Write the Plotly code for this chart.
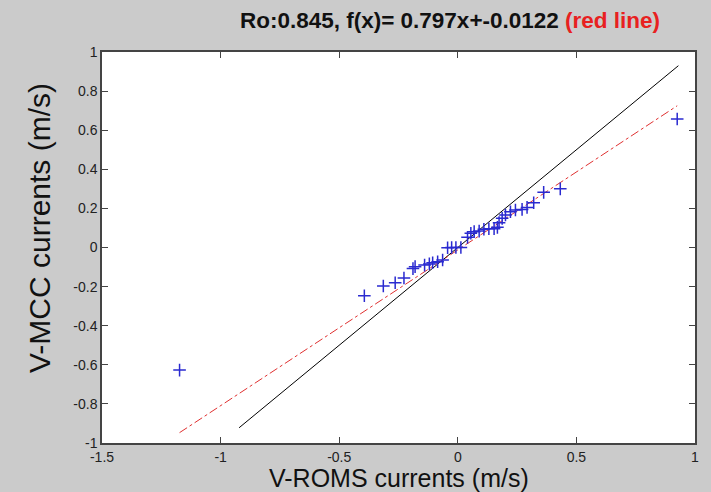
import plotly.graph_objects as go

# Scatter data: V-ROMS (x) vs V-MCC (y), m/s
roms_v = [-1.173, -0.394, -0.314, -0.264, -0.227, -0.189, -0.180, -0.140, -0.120,
          -0.106, -0.085, -0.064, -0.043, -0.026, -0.008, 0.013, 0.041, 0.055,
          0.069, 0.090, 0.110, 0.131, 0.153, 0.167, 0.174, 0.187, 0.201, 0.222,
          0.243, 0.271, 0.292, 0.320, 0.362, 0.432, 0.925]
mcc_v = [-0.627, -0.247, -0.197, -0.180, -0.156, -0.108, -0.098, -0.090, -0.084,
         -0.078, -0.073, -0.064, -0.001, 0.000, 0.000, 0.000, 0.052, 0.073,
         0.081, 0.084, 0.093, 0.096, 0.096, 0.103, 0.127, 0.149, 0.166, 0.183,
         0.192, 0.195, 0.205, 0.229, 0.282, 0.300, 0.657]

# 1:1 reference line extent
ident_x = [-0.922, 0.93]
# regression line f(x) = 0.797x - 0.0122
slope = 0.797
intercept = -0.0122
fit_x = [-1.173, 0.925]
fit_y = [slope * v + intercept for v in fit_x]

x_ticks = [-1.5, -1, -0.5, 0, 0.5, 1]
x_ticklabels = ["-1.5", "-1", "-0.5", "0", "0.5", "1"]
y_ticks = [-1, -0.8, -0.6, -0.4, -0.2, 0, 0.2, 0.4, 0.6, 0.8, 1]
y_ticklabels = ["-1", "-0.8", "-0.6", "-0.4", "-0.2", "0", "0.2", "0.4", "0.6", "0.8", "1"]

title_main = "Ro:0.845, f(x)= 0.797x+-0.0122 "
title_red = "(red line)"
x_title = "V-ROMS currents (m/s)"
y_title = "V-MCC currents (m/s)"

FONT = "Liberation Sans, Arial, sans-serif"
BG = "#cbcbcb"

fig = go.Figure()
fig.add_trace(go.Scatter(x=ident_x, y=ident_x, mode="lines",
                         line=dict(color="black", width=1), showlegend=False))
fig.add_trace(go.Scatter(x=fit_x, y=fit_y, mode="lines",
                         line=dict(color="#e03030", width=1, dash="dashdot"), showlegend=False))
fig.add_trace(go.Scatter(x=roms_v, y=mcc_v, mode="markers",
                         marker=dict(symbol="cross-thin", size=9,
                                     line=dict(color="#2a2ad0", width=1.5)),
                         showlegend=False))

axis_common = dict(showgrid=False, zeroline=False, showline=True, mirror="ticks",
                   linecolor="#444444", linewidth=1.5, ticks="inside", ticklen=6,
                   tickcolor="#444444", tickwidth=1,
                   tickfont=dict(family=FONT, size=14, color="#222222"))

fig.update_xaxes(range=[-1.5, 1], tickvals=x_ticks, ticktext=x_ticklabels, **axis_common)
fig.update_yaxes(range=[-1, 1], tickvals=y_ticks, ticktext=y_ticklabels, **axis_common)

fig.update_layout(
    width=711, height=492,
    margin=dict(l=102, r=12, t=52, b=49),
    paper_bgcolor=BG, plot_bgcolor="white",
    title=dict(text="<b>" + title_main + "<span style='color:#e82020'>" + title_red + "</span></b>",
               x=450 / 711, xref="container", xanchor="center", y=1 - 20 / 492, yanchor="middle",
               font=dict(family=FONT, size=22.5, color="#111111")),
    annotations=[
        dict(text=x_title, xref="paper", yref="paper", x=0.5, y=-(478 - 443) / 391,
             xanchor="center", yanchor="middle", showarrow=False,
             font=dict(family=FONT, size=25, color="#111111")),
        dict(text=y_title, xref="paper", yref="paper", x=0, xshift=-63,
             y=(443 - 228) / 391,
             xanchor="center", yanchor="middle", textangle=-90, showarrow=False,
             font=dict(family=FONT, size=30, color="#111111")),
    ],
)

fig.write_html("out.html",
               config={"displayModeBar": False},
               post_script="document.body.style.margin='0';"
                           "document.body.style.background='" + BG + "';")
